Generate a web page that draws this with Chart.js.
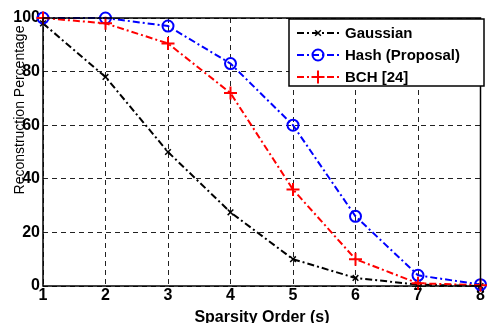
<!DOCTYPE html>
<html>
<head>
<meta charset="utf-8">
<script src="https://cdn.jsdelivr.net/npm/chart.js@4/dist/chart.umd.min.js"></script>
<style>
  html, body { margin: 0; padding: 0; background: #fff; }
  #wrap { width: 489px; height: 323px; }
</style>
</head>
<body>
<div id="wrap"><canvas id="myChart" width="489" height="323"></canvas></div>
<script>
// data
let sparsity = [1, 2, 3, 4, 5, 6, 7, 8];
let gaussian = [98, 78, 50, 27.5, 10, 3, 0.5, 0];
let hash = [100, 100, 97, 83, 60, 26, 4, 0.5];
let bch = [100, 98, 90.5, 72, 36, 10, 1, 0.3];
let yTicks = [0, 20, 40, 60, 80, 100];
let seriesNames = ['Gaussian', 'Hash (Proposal)', 'BCH [24]'];

const dashDot = [7, 3, 2, 3];
const tickFont = { family: 'Liberation Sans, Arial, sans-serif', size: 16, weight: 'bold' };

function toPoints(vals){
	return vals.map((v, i) => ({ x: sparsity[i], y: v }));
}

// frame, axis titles and the legend box
const framePlugin = {
	id: 'frame',
	afterDatasetsDraw(chart){
		let ctx = chart.ctx;
		let a = chart.chartArea;
		ctx.save();
		ctx.strokeStyle = '#000';
		ctx.lineWidth = 1.5;
		ctx.setLineDash([]);
		ctx.strokeRect(a.left, a.top, a.right - a.left, a.bottom - a.top);
		ctx.restore();
	},
	afterDraw(chart){
		let ctx = chart.ctx;
		ctx.save();
		ctx.fillStyle = '#000';
		// y title
		ctx.translate(20, 110);
		ctx.rotate(-Math.PI / 2);
		ctx.font = '14px Liberation Sans, Arial, sans-serif';
		ctx.textAlign = 'center';
		ctx.textBaseline = 'middle';
		ctx.fillText('Reconstruction Percentage', 0, 0);
		ctx.restore();
		// x title
		ctx.save();
		ctx.fillStyle = '#000';
		ctx.font = 'bold 16px Liberation Sans, Arial, sans-serif';
		ctx.textAlign = 'center';
		ctx.textBaseline = 'middle';
		ctx.fillText('Sparsity Order (s)', 262, 318);
		ctx.restore();

		// legend inside the plot
		let lx = 289, ly = 19, lw = 195, lh = 67;
		ctx.save();
		ctx.fillStyle = '#fff';
		ctx.fillRect(lx, ly, lw, lh);
		ctx.strokeStyle = '#000';
		ctx.lineWidth = 1.5;
		ctx.strokeRect(lx, ly, lw, lh);
		chart.data.datasets.forEach((ds, i) => {
			let y = 33 + i * 22;
			ctx.strokeStyle = ds.borderColor;
			ctx.lineWidth = 2;
			ctx.setLineDash(dashDot);
			ctx.beginPath();
			ctx.moveTo(297, y);
			ctx.lineTo(340, y);
			ctx.stroke();
			ctx.setLineDash([]);
			ctx.fillStyle = 'rgba(0,0,0,0)';
			ctx.lineWidth = ds.pointBorderWidth;
			Chart.helpers.drawPoint(ctx, {
				pointStyle: ds.pointStyle,
				radius: ds.pointRadius,
				borderWidth: ds.pointBorderWidth,
				rotation: 0
			}, 318, y);
			ctx.fillStyle = '#000';
			ctx.font = 'bold 15px Liberation Sans, Arial, sans-serif';
			ctx.textAlign = 'left';
			ctx.textBaseline = 'middle';
			ctx.fillText(seriesNames[i], 345, y + 1);
		});
		ctx.restore();
	}
};

let ctx = document.getElementById('myChart').getContext('2d');
let chart = new Chart(ctx, {
	type: 'line',
	data: {
		datasets: [
			{
				label: seriesNames[0],
				data: toPoints(gaussian),
				borderColor: '#000',
				pointBorderColor: '#000',
				pointBackgroundColor: 'rgba(0,0,0,0)',
				pointStyle: 'crossRot',
				pointRadius: 4,
				pointBorderWidth: 1.5,
				borderWidth: 2,
				borderDash: dashDot,
				order: 3
			},
			{
				label: seriesNames[1],
				data: toPoints(hash),
				borderColor: '#0000ff',
				pointBorderColor: '#0000ff',
				pointBackgroundColor: 'rgba(0,0,0,0)',
				pointStyle: 'circle',
				pointRadius: 5.5,
				pointBorderWidth: 2,
				borderWidth: 2,
				borderDash: dashDot,
				order: 2
			},
			{
				label: seriesNames[2],
				data: toPoints(bch),
				borderColor: '#ff0000',
				pointBorderColor: '#ff0000',
				pointBackgroundColor: 'rgba(0,0,0,0)',
				pointStyle: 'cross',
				pointRadius: 6.5,
				pointBorderWidth: 2,
				borderWidth: 2,
				borderDash: dashDot,
				order: 1
			}
		]
	},
	options: {
		responsive: false,
		animation: false,
		clip: false,
		layout: { padding: { top: 18, right: 4, left: 0, bottom: 0 } },
		plugins: { legend: { display: false }, tooltip: { enabled: false } },
		scales: {
			x: {
				type: 'linear',
				min: 1,
				max: 8,
				ticks: { stepSize: 1, color: '#000', font: tickFont, padding: 0 },
				grid: { color: '#222', lineWidth: 1, drawTicks: false },
				border: { display: false, dash: [5, 4] },
				afterFit(scale){
					scale.height = 37;
					scale.paddingLeft = 0;
					scale.paddingRight = 0;
				}
			},
			y: {
				min: 0,
				max: 100,
				afterBuildTicks(scale){
					scale.ticks = yTicks.map(v => ({ value: v }));
				},
				ticks: { color: '#000', font: tickFont, padding: 3 },
				grid: { color: '#222', lineWidth: 1, drawTicks: false },
				border: { display: false, dash: [5, 4] },
				afterFit(scale){
					scale.width = 43;
					scale.paddingTop = 0;
					scale.paddingBottom = 0;
				}
			}
		}
	},
	plugins: [framePlugin]
});
</script>
</body>
</html>
